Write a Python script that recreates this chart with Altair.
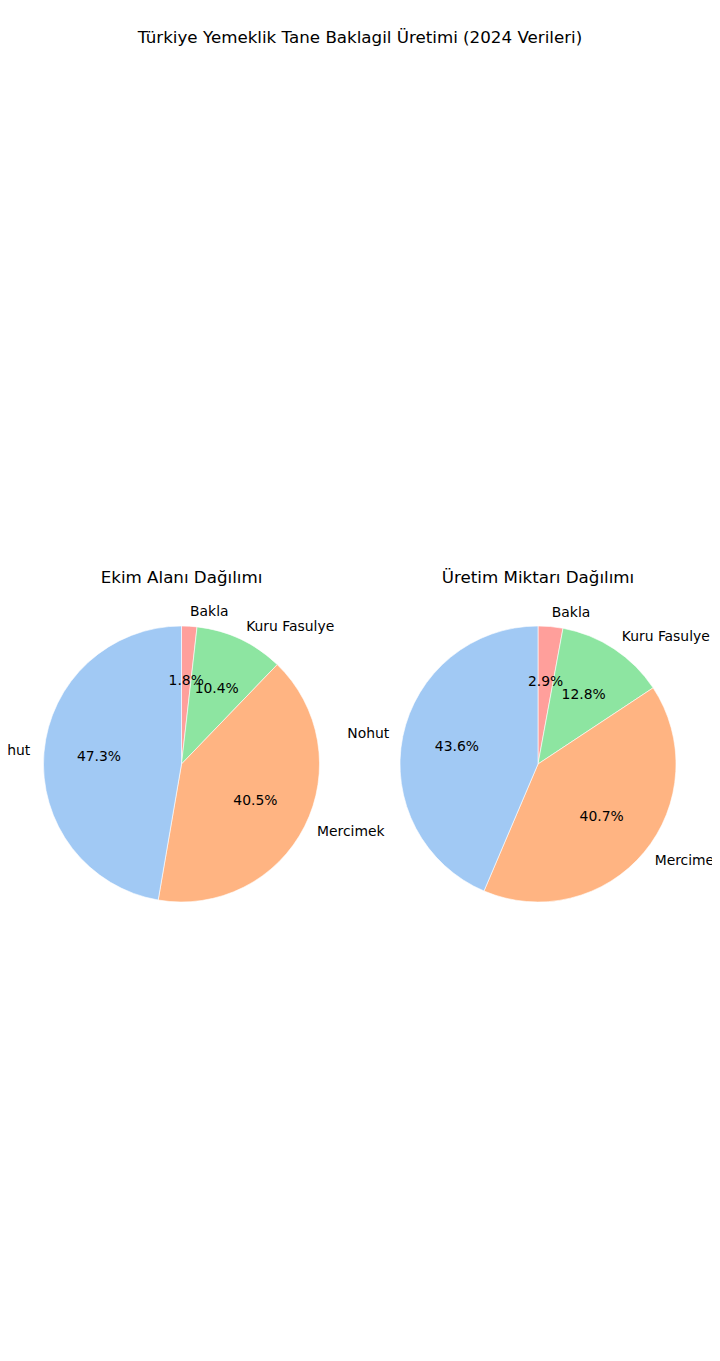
import altair as alt
import pandas as pd

# ---- data ----
categories = ["Bakla", "Kuru Fasulye", "Mercimek", "Nohut"]
colors = ["#ff9f9b", "#8de5a1", "#ffb482", "#a1c9f4"]
ekim_alani_pct = [1.8, 10.4, 40.5, 47.3]
uretim_miktari_pct = [2.9, 12.8, 40.7, 43.6]
panel_titles = ["Ekim Alanı Dağılımı", "Üretim Miktarı Dağılımı"]
main_title = "Türkiye Yemeklik Tane Baklagil Üretimi (2024 Verileri)"

rows = []
for p, vals in enumerate([ekim_alani_pct, uretim_miktari_pct]):
    for i, (c, v) in enumerate(zip(categories, vals)):
        rows.append({"panel": p, "idx": i, "category": c, "val": v})
df = pd.DataFrame(rows)

FONT = "DejaVu Sans"
R = 138
centers = [(173.5, 756), (530, 756)]

theta_scale = alt.Scale(domain=[0, 100])
color_scale = alt.Scale(domain=categories, range=colors)
base = alt.Chart(df)

layers = []
for p, (cx, cy) in enumerate(centers):
    b = base.transform_filter(alt.datum.panel == p)
    arc = b.mark_arc(radius=R, stroke="white", strokeWidth=0.6).encode(
        theta=alt.Theta("val:Q", stack=True, scale=theta_scale),
        color=alt.Color("category:N", scale=color_scale, legend=None),
        order=alt.Order("idx:Q"),
        x=alt.value(cx),
        y=alt.value(cy),
    )
    layers.append(arc)

    pos = b.transform_window(
        cum="sum(val)", sort=[alt.SortField("idx")]
    ).transform_calculate(
        mid="datum.cum - datum.val / 2",
        pct="format(datum.val, '.1f') + '%'",
    )
    pct = pos.mark_text(
        radius=0.6 * R, fontSize=13.9, font=FONT, color="#000",
        align="center", baseline="middle",
    ).encode(
        theta=alt.Theta("mid:Q", stack=None, scale=theta_scale),
        text="pct:N",
        x=alt.value(cx),
        y=alt.value(cy),
    )
    layers.append(pct)

    for side, cond in [("left", "datum.mid < 50"), ("right", "datum.mid >= 50")]:
        lab = pos.transform_filter(cond).mark_text(
            radius=1.1 * R, fontSize=13.9, font=FONT, color="#000",
            align=side, baseline="middle",
        ).encode(
            theta=alt.Theta("mid:Q", stack=None, scale=theta_scale),
            text="category:N",
            x=alt.value(cx),
            y=alt.value(cy),
        )
        layers.append(lab)

    ttl = alt.Chart(pd.DataFrame({"t": [panel_titles[p]]})).mark_text(
        fontSize=16.7, font=FONT, color="#000", align="center", baseline="alphabetic",
    ).encode(text="t:N", x=alt.value(cx), y=alt.value(575))
    layers.append(ttl)

main = alt.Chart(pd.DataFrame({"t": [main_title]})).mark_text(
    fontSize=16.7, font=FONT, color="#000", align="center", baseline="alphabetic",
).encode(text="t:N", x=alt.value(352), y=alt.value(35))
layers.append(main)

chart = alt.layer(*layers).properties(
    width=704, height=1330, padding=0, autosize="none"
).configure_view(stroke=None)

chart.save("out.html", embed_options={"renderer": "svg", "actions": False})
